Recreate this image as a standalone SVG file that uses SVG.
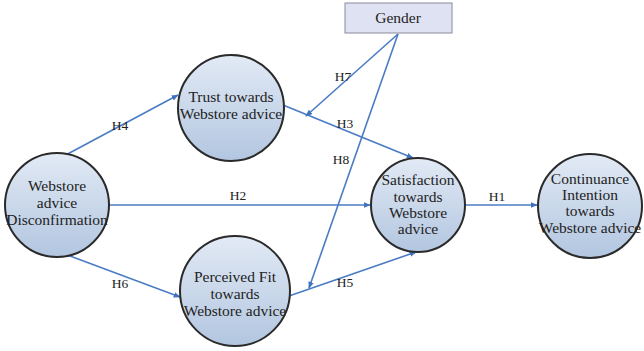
<svg xmlns="http://www.w3.org/2000/svg" width="644" height="351" viewBox="0 0 644 351">
<defs>
<linearGradient id="g" x1="0" y1="0" x2="0" y2="1">
<stop offset="0" stop-color="#e2eaf5"/>
<stop offset="1" stop-color="#b2c6e0"/>
</linearGradient>
<marker id="a" viewBox="0 0 10 10" refX="9" refY="5" markerWidth="7" markerHeight="7" orient="auto" markerUnits="userSpaceOnUse">
<path d="M0,1 L10,5 L0,9 z" fill="#3f72bf"/>
</marker>
<style>
.n{fill:url(#g);stroke:#2a2a2a;stroke-width:2}
.t{font-size:15.5px;fill:#222;text-anchor:middle}
.l{font-size:13.5px;fill:#222;text-anchor:middle}
.c{stroke:#4a7cc4;stroke-width:1.6;fill:none;marker-end:url(#a)}
</style>
</defs>
<rect width="644" height="351" fill="#fff"/>
<g font-family="Liberation Serif, Times New Roman, serif">
<g id="connectors">
<line class="c" x1="62" y1="157" x2="178" y2="95"/>
<line class="c" x1="108" y1="205" x2="370" y2="205"/>
<line class="c" x1="62" y1="253" x2="180" y2="297"/>
<line class="c" x1="283" y1="105" x2="413" y2="158"/>
<line class="c" x1="289" y1="296" x2="416" y2="252"/>
<line class="c" x1="465" y1="205" x2="537" y2="205"/>
<line class="c" x1="398" y1="34" x2="306" y2="116"/>
<line class="c" x1="398" y1="34" x2="309" y2="288"/>
<text class="l" x="120" y="130">H4</text>
<text class="l" x="238" y="200">H2</text>
<text class="l" x="120" y="288">H6</text>
<text class="l" x="345" y="128">H3</text>
<text class="l" x="345" y="287">H5</text>
<text class="l" x="497" y="201">H1</text>
<text class="l" x="343" y="81">H7</text>
<text class="l" x="341" y="164">H8</text>
</g>
<g id="gender">
<rect x="345" y="3" width="107" height="30" fill="#dfe2f2" stroke="#8a8a9a" stroke-width="1"/>
<text class="t" x="398" y="23">Gender</text>
</g>
<g id="disconfirmation">
<circle class="n" cx="57" cy="205" r="52"/>
<text class="t" x="57" y="191">Webstore</text>
<text class="t" x="57" y="208">advice</text>
<text class="t" x="57" y="225">Disconfirmation</text>
</g>
<g id="trust">
<circle class="n" cx="231" cy="108" r="53"/>
<text class="t" x="231" y="102">Trust towards</text>
<text class="t" x="231" y="119">Webstore advice</text>
</g>
<g id="fit">
<circle class="n" cx="235" cy="291" r="55"/>
<text class="t" x="235" y="282">Perceived Fit</text>
<text class="t" x="235" y="299">towards</text>
<text class="t" x="235" y="316">Webstore advice</text>
</g>
<g id="satisfaction">
<circle class="n" cx="418" cy="205" r="47"/>
<text class="t" x="418" y="185">Satisfaction</text>
<text class="t" x="418" y="202">towards</text>
<text class="t" x="418" y="218">Webstore</text>
<text class="t" x="418" y="234">advice</text>
</g>
<g id="continuance">
<circle class="n" cx="590" cy="206" r="52"/>
<text class="t" x="590" y="184">Continuance</text>
<text class="t" x="590" y="200">Intention</text>
<text class="t" x="590" y="216">towards</text>
<text class="t" x="590" y="233">Webstore advice</text>
</g>
</g>
</svg>
